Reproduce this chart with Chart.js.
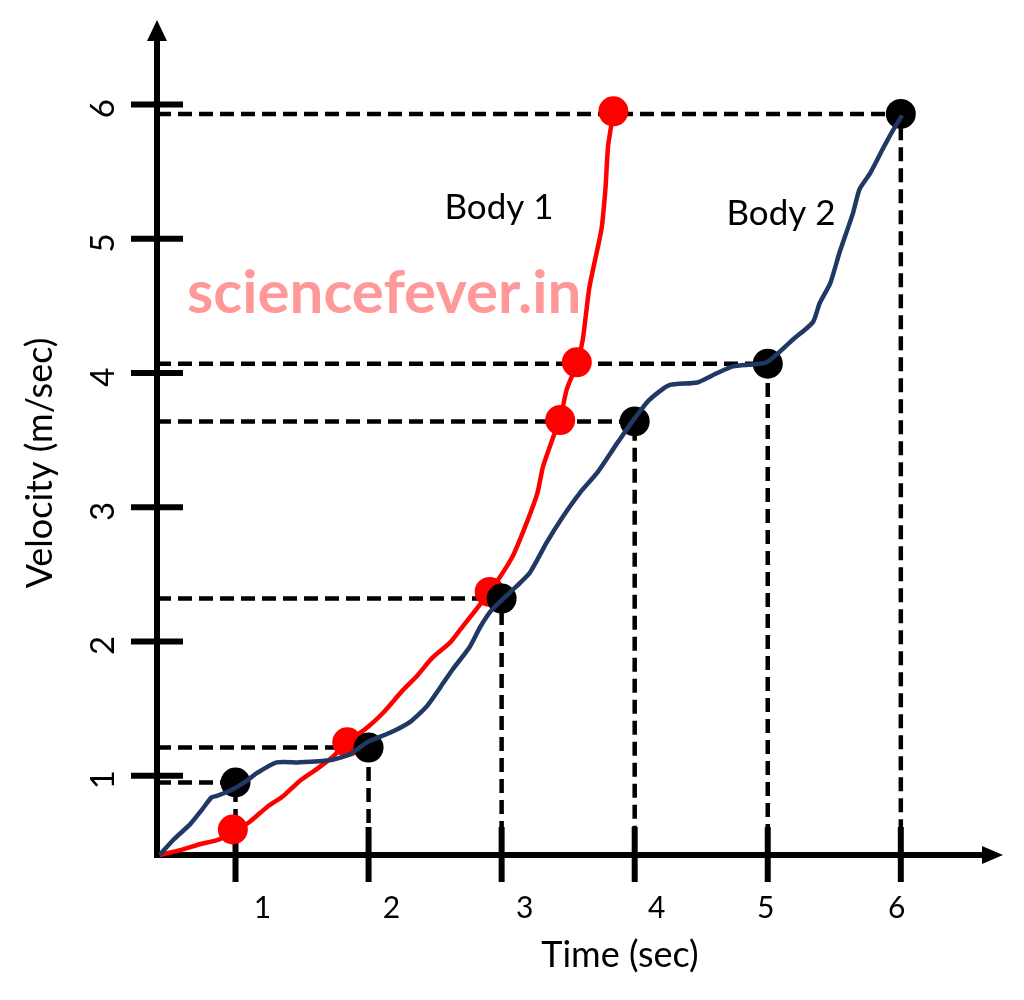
<!DOCTYPE html>
<html>
<head>
<meta charset="utf-8">
<script src="https://cdn.jsdelivr.net/npm/chart.js@4.4.1/dist/chart.umd.min.js"></script>
<style>
  html, body { margin: 0; padding: 0; background: #ffffff; }
  #wrap { width: 1024px; height: 1000px; position: relative; }
</style>
</head>
<body>
<div id="wrap"><canvas id="c"></canvas></div>
<script>
// ---------------- DATA ----------------
const timeTicks = [1, 2, 3, 4, 5, 6];
const velocityTicks = [1, 2, 3, 4, 5, 6];
const xTitle = 'Time (sec)';
const yTitle = 'Velocity (m/sec)';
const seriesNames = ['Body 1', 'Body 2'];
const watermarkText = 'sciencefever.in';

// Body 1 (red curve)
const body1Time = [0.43, 0.60, 0.73, 0.86, 0.98, 1.11, 1.24, 1.36, 1.48, 1.61, 1.73, 1.84, 1.99, 2.11, 2.26, 2.36, 2.48, 2.61, 2.69, 2.91, 3.08, 3.19, 3.27, 3.31, 3.39, 3.44, 3.49, 3.57, 3.61, 3.66, 3.75, 3.78, 3.80, 3.84];
const body1Velocity = [0.41, 0.45, 0.49, 0.52, 0.58, 0.66, 0.77, 0.85, 0.96, 1.05, 1.14, 1.25, 1.36, 1.47, 1.64, 1.74, 1.88, 1.99, 2.09, 2.37, 2.63, 2.89, 3.11, 3.30, 3.53, 3.66, 3.88, 4.08, 4.25, 4.64, 5.07, 5.37, 5.69, 5.94];

// Body 2 (dark blue curve)
const body2Time = [0.43, 0.53, 0.66, 0.75, 0.82, 0.86, 0.98, 1.08, 1.16, 1.31, 1.48, 1.73, 1.86, 1.99, 2.16, 2.31, 2.44, 2.54, 2.63, 2.76, 2.84, 2.93, 3.11, 3.21, 3.34, 3.46, 3.59, 3.72, 3.87, 3.99, 4.11, 4.26, 4.47, 4.62, 4.74, 4.99, 5.19, 5.34, 5.39, 5.47, 5.54, 5.64, 5.69, 5.77, 5.87, 5.93, 6.01];
const body2Velocity = [0.41, 0.52, 0.64, 0.75, 0.84, 0.85, 0.90, 0.96, 1.02, 1.10, 1.10, 1.12, 1.16, 1.25, 1.32, 1.40, 1.52, 1.66, 1.79, 1.96, 2.11, 2.24, 2.41, 2.51, 2.74, 2.93, 3.11, 3.26, 3.48, 3.65, 3.80, 3.91, 3.93, 4.00, 4.05, 4.08, 4.25, 4.38, 4.52, 4.67, 4.90, 5.19, 5.37, 5.49, 5.68, 5.79, 5.92];

// Marked points
const body1MarkTime = [0.98, 1.84, 2.91, 3.44, 3.565, 3.84];
const body1MarkVelocity = [0.60, 1.25, 2.37, 3.65, 4.08, 5.95];
const body2MarkTime = [1, 2, 3, 4, 5, 6];
const body2MarkVelocity = [0.95, 1.21, 2.32, 3.64, 4.07, 5.93];

// Axis range (origin of the drawn axes)
const xMin = 0.41, xMax = 6.768;
const yMin = 0.41, yMax = 6.63;

// ---------------- STYLE ----------------
const RED = '#ff0000';
const NAVY = '#1f3864';
const FONT = 'Lato, "Open Sans", "DejaVu Sans", sans-serif';
const xLabelNudge = [27, 23, 23, 22, -2, -4];

const zip = (xs, ys) => xs.map((x, i) => ({ x: x, y: ys[i] }));

const guideSets = body2MarkTime.map((t, i) => ({
  type: 'scatter',
  showLine: true,
  data: [
    { x: xMin, y: body2MarkVelocity[i] },
    { x: t, y: body2MarkVelocity[i] },
    { x: t, y: yMin }
  ],
  borderColor: '#000000',
  borderWidth: 4.5,
  borderDash: [14, 7],
  pointRadius: 0,
  tension: 0,
  fill: false,
  clip: false,
  order: 10
}));

const decor = {
  id: 'decor',
  beforeDraw(chart) {
    const ctx = chart.ctx;
    ctx.save();
    ctx.fillStyle = '#ffffff';
    ctx.fillRect(0, 0, chart.width, chart.height);
    ctx.restore();
  },
  beforeDatasetsDraw(chart) {
    const ctx = chart.ctx;
    const xs = chart.scales.x, ys = chart.scales.y;
    const ox = xs.getPixelForValue(xMin);
    const oy = ys.getPixelForValue(yMin);
    const top = ys.getPixelForValue(yMax);
    const right = xs.getPixelForValue(xMax);
    ctx.save();
    ctx.strokeStyle = '#000';
    ctx.fillStyle = '#000';
    ctx.lineCap = 'butt';
    ctx.lineWidth = 6;
    // y axis
    ctx.beginPath();
    ctx.moveTo(ox, oy + 3);
    ctx.lineTo(ox, top + 18);
    ctx.stroke();
    ctx.beginPath();
    ctx.moveTo(ox, top);
    ctx.lineTo(ox - 10, top + 21);
    ctx.lineTo(ox + 10, top + 21);
    ctx.closePath();
    ctx.fill();
    // x axis
    ctx.beginPath();
    ctx.moveTo(ox - 3, oy);
    ctx.lineTo(right - 18, oy);
    ctx.stroke();
    ctx.beginPath();
    ctx.moveTo(right, oy);
    ctx.lineTo(right - 21, oy - 9);
    ctx.lineTo(right - 21, oy + 9);
    ctx.closePath();
    ctx.fill();
    // y ticks
    velocityTicks.forEach(v => {
      const py = ys.getPixelForValue(v);
      ctx.beginPath();
      ctx.moveTo(ox - 26, py);
      ctx.lineTo(ox + 26, py);
      ctx.stroke();
    });
    // x ticks
    timeTicks.forEach(t => {
      const px = xs.getPixelForValue(t);
      ctx.beginPath();
      ctx.moveTo(px, oy - 28);
      ctx.lineTo(px, oy + 27);
      ctx.stroke();
    });
    // x tick labels
    ctx.font = '30px ' + FONT;
    ctx.textAlign = 'center';
    ctx.textBaseline = 'alphabetic';
    ctx.fillStyle = '#000';
    timeTicks.forEach((t, i) => {
      const px = xs.getPixelForValue(t) + xLabelNudge[i];
      ctx.fillText(String(t), px, oy + 63);
    });
    // y tick labels (rotated)
    ctx.font = '33px ' + FONT;
    velocityTicks.forEach(v => {
      const py = ys.getPixelForValue(v);
      ctx.save();
      ctx.translate(ox - 54, py + 4);
      ctx.rotate(-Math.PI / 2);
      ctx.textAlign = 'center';
      ctx.textBaseline = 'middle';
      ctx.fillText(String(v), 0, 0);
      ctx.restore();
    });
    // axis titles
    ctx.font = '36px ' + FONT;
    ctx.textAlign = 'center';
    ctx.textBaseline = 'middle';
    ctx.fillText(xTitle, 620, 955);
    ctx.save();
    ctx.translate(40, 463);
    ctx.rotate(-Math.PI / 2);
    ctx.font = '36px ' + FONT;
    ctx.fillText(yTitle, 0, 0);
    ctx.restore();
    // series labels
    ctx.font = '35px ' + FONT;
    ctx.textBaseline = 'alphabetic';
    ctx.fillText(seriesNames[0], 499, 219);
    ctx.fillText(seriesNames[1], 781, 225);
    // watermark
    ctx.font = 'bold 60px ' + FONT;
    ctx.textAlign = 'left';
    ctx.fillStyle = '#ff9999';
    ctx.fillText(watermarkText, 187, 313);
    ctx.restore();
  }
};

new Chart(document.getElementById('c'), {
  type: 'scatter',
  data: {
    datasets: [
      ...guideSets,
      {
        label: seriesNames[0] + ' points',
        data: zip(body1MarkTime, body1MarkVelocity),
        backgroundColor: RED,
        borderWidth: 0,
        pointRadius: 15,
        clip: false,
        order: 6
      },
      {
        label: seriesNames[0],
        showLine: true,
        data: zip(body1Time, body1Velocity),
        borderColor: RED,
        borderWidth: 4.5,
        pointRadius: 0,
        tension: 0.2,
        clip: false,
        order: 5
      },
      {
        label: seriesNames[1] + ' points',
        data: zip(body2MarkTime, body2MarkVelocity),
        backgroundColor: '#000000',
        borderWidth: 0,
        pointRadius: 15,
        clip: false,
        order: 4
      },
      {
        label: seriesNames[1],
        showLine: true,
        data: zip(body2Time, body2Velocity),
        borderColor: NAVY,
        borderWidth: 4.5,
        pointRadius: 0,
        tension: 0.2,
        clip: false,
        order: 3
      }
    ]
  },
  options: {
    responsive: true,
    maintainAspectRatio: false,
    animation: false,
    devicePixelRatio: 1,
    layout: { padding: { left: 157, right: 21, top: 20, bottom: 145 } },
    plugins: { legend: { display: false }, tooltip: { enabled: false } },
    events: [],
    scales: {
      x: { type: 'linear', min: xMin, max: xMax, display: false },
      y: { type: 'linear', min: yMin, max: yMax, display: false }
    }
  },
  plugins: [decor]
});
</script>
</body>
</html>
